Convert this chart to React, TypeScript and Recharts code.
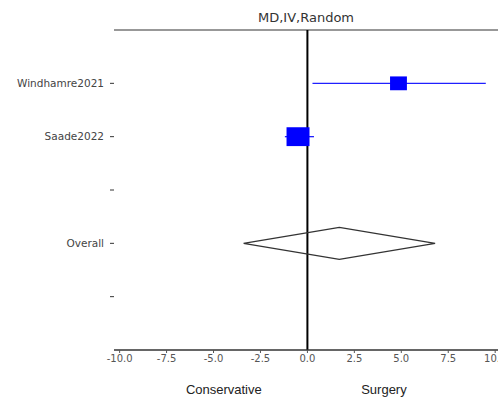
import React from 'react';
import { ScatterChart, Scatter, XAxis, YAxis, ReferenceLine, ErrorBar } from 'recharts';

// rows from top to bottom, blank rows are spacers
const rowLabels = ['Windhamre2021', 'Saade2022', '', 'Overall', ''];
const rowTicks = [1, 2, 3, 4, 5];

const studyNames = ['Windhamre2021', 'Saade2022'];
const studyRows = [1, 2];
const studyMeans = [4.85, -0.5];
const studyLower = [0.27, -1.2];
const studyUpper = [9.5, 0.35];
const studyWeights = [35, 65];

const overallRow = 4;
const overallMean = 1.7;
const overallLower = -3.4;
const overallUpper = 6.8;

const xTicks = [-10, -7.5, -5, -2.5, 0, 2.5, 5, 7.5, 10];

const studyData = studyNames.map((name, i) => ({
  name,
  x: studyMeans[i],
  y: studyRows[i],
  err: [studyMeans[i] - studyLower[i], studyUpper[i] - studyMeans[i]],
  weight: studyWeights[i],
}));

const diamondData = [
  { x: overallLower, y: overallRow },
  { x: overallMean, y: overallRow - 0.3 },
  { x: overallUpper, y: overallRow },
  { x: overallMean, y: overallRow + 0.3 },
  { x: overallLower, y: overallRow },
];

const SquareShape = (props: any) => {
  const { cx, cy, payload } = props;
  const w = Math.sqrt(payload.weight) * 2.85;
  const h = w * 0.82;
  return <rect x={cx - w / 2} y={cy - h / 2} width={w} height={h} fill="#0000ff" />;
};

const AxisTitles = (props: any) => {
  const { viewBox } = props;
  const { x, width, y } = viewBox;
  const style = { fontFamily: '"Liberation Sans", Arial, sans-serif', fontSize: 13, fill: '#222' };
  return (
    <g>
      <text x={x + width * 0.286} y={y + 44} textAnchor="middle" style={style}>Conservative</text>
      <text x={x + width * 0.703} y={y + 44} textAnchor="middle" style={style}>Surgery</text>
    </g>
  );
};

export default function App() {
  return (
    <div style={{ position: 'absolute', left: 0, top: 0, width: 498, height: 400, background: '#fff', overflow: 'hidden' }}>
      <ScatterChart
        width={498}
        height={400}
        margin={{ top: 30, right: 0, left: 0, bottom: 0 }}
        style={{ fontFamily: '"DejaVu Sans", sans-serif' }}
      >
        <XAxis
          type="number"
          dataKey="x"
          domain={[-10.3, 10.15]}
          ticks={xTicks}
          interval={0}
          allowDataOverflow
          tickFormatter={(v: number) => v.toFixed(1)}
          tick={{ fontSize: 10, fill: '#555' }}
          tickLine={{ stroke: '#555' }}
          tickSize={3}
          axisLine={{ stroke: '#333', strokeWidth: 1.5 }}
          height={50}
          label={{ content: <AxisTitles /> }}
        />
        <YAxis
          type="number"
          dataKey="y"
          domain={[0, 6]}
          reversed
          ticks={rowTicks}
          interval={0}
          tickFormatter={(v: number) => rowLabels[v - 1]}
          tick={{ fontSize: 10.5, fill: '#444' }}
          tickLine={{ stroke: '#333' }}
          tickSize={4}
          tickMargin={6}
          axisLine={false}
          width={114}
        />
        <ReferenceLine
          y={0}
          stroke="#333"
          strokeWidth={1.2}
          label={{ value: 'MD,IV,Random', position: 'top', offset: 8, fontSize: 13, fill: '#333' }}
        />
        <Scatter data={studyData} shape={SquareShape} isAnimationActive={false}>
          <ErrorBar dataKey="err" direction="x" width={0} stroke="#2020ff" strokeWidth={1.3} />
        </Scatter>
        <Scatter
          data={diamondData}
          line={{ stroke: '#333', strokeWidth: 1.3 }}
          shape={() => <g />}
          isAnimationActive={false}
        />
        <ReferenceLine x={0} stroke="#000" strokeWidth={2} />
      </ScatterChart>
    </div>
  );
}
